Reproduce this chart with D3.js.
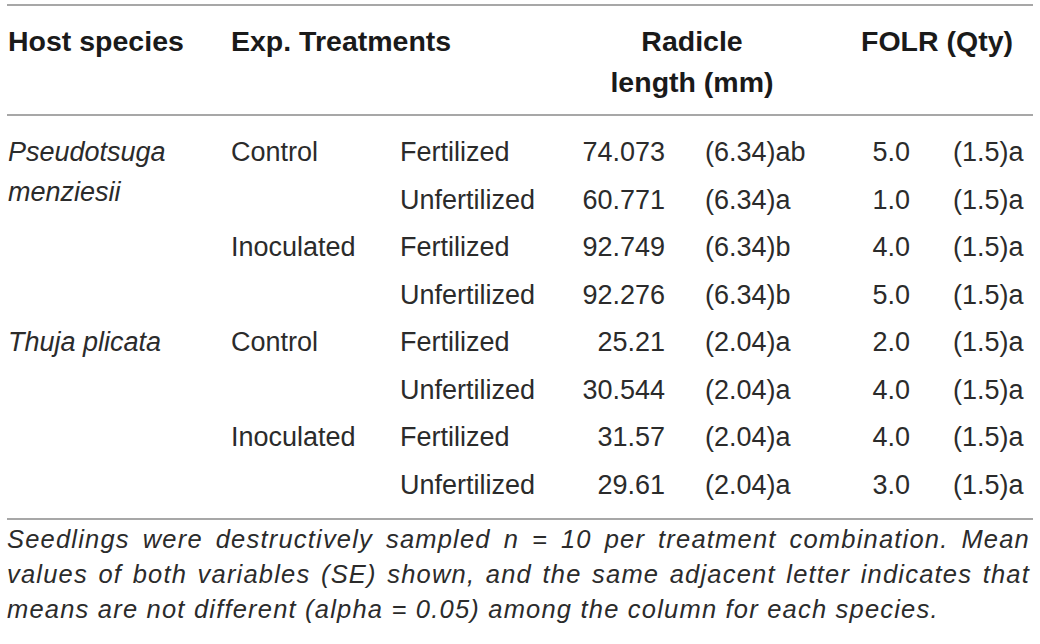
<!DOCTYPE html>
<html>
<head>
<meta charset="utf-8">
<script src="https://cdn.jsdelivr.net/npm/d3@7"></script>
<style>
  body { margin: 0; background: #fff; }
  svg { display: block; }
</style>
</head>
<body>
<div id="chart"></div>
<script>
// table values
const hostSpecies = [["Pseudotsuga", "menziesii"], ["Thuja plicata"]];
const expTreatments = ["Control", "Inoculated"];
const fertilization = ["Fertilized", "Unfertilized"];
const radicleMean = ["74.073", "60.771", "92.749", "92.276", "25.21", "30.544", "31.57", "29.61"];
const radicleSE = ["(6.34)ab", "(6.34)a", "(6.34)b", "(6.34)b", "(2.04)a", "(2.04)a", "(2.04)a", "(2.04)a"];
const folrMean = ["5.0", "1.0", "4.0", "5.0", "2.0", "4.0", "4.0", "3.0"];
const folrSE = ["(1.5)a", "(1.5)a", "(1.5)a", "(1.5)a", "(1.5)a", "(1.5)a", "(1.5)a", "(1.5)a"];
const headers = ["Host species", "Exp. Treatments", ["Radicle", "length (mm)"], "FOLR (Qty)"];
const footnote = [
  "Seedlings were destructively sampled n = 10 per treatment combination. Mean",
  "values of both variables (SE) shown, and the same adjacent letter indicates that",
  "means are not different (alpha = 0.05) among the column for each species."
];

const width = 1040, height = 644;
const left = 7, right = 1033;
const font = "'Liberation Sans', Arial, Helvetica, sans-serif";
const textCol = "#2b2b2b";

const svg = d3.select("#chart").append("svg")
    .attr("width", width)
    .attr("height", height)
    .style("font-family", font);

svg.append("rect").attr("width", width).attr("height", height).attr("fill", "#fff");

// rows
const nRows = radicleMean.length;
const yRow = d3.scaleLinear().domain([0, nRows - 1]).range([161, 494]);

// rules
const rules = [5, 115, 519];
svg.selectAll(".rule").data(rules).enter().append("line")
    .attr("class", "rule")
    .attr("x1", left).attr("x2", right)
    .attr("y1", d => d).attr("y2", d => d)
    .attr("stroke", "#8a8a8a")
    .attr("stroke-width", 1.5);

// header
const hdr = svg.append("g")
    .attr("font-weight", "bold")
    .attr("font-size", 28.5)
    .attr("fill", "#1a1a1a");
hdr.append("text").attr("x", 8).attr("y", 51).text(headers[0]);
hdr.append("text").attr("x", 231).attr("y", 51).text(headers[1]);
hdr.append("text").attr("x", 692).attr("y", 51).attr("text-anchor", "middle").text(headers[2][0]);
hdr.append("text").attr("x", 692).attr("y", 92).attr("text-anchor", "middle").text(headers[2][1]);
hdr.append("text").attr("x", 1013).attr("y", 51).attr("text-anchor", "end").text(headers[3]);

const body = svg.append("g")
    .attr("font-size", 27)
    .attr("fill", textCol);

// host species (each spans 4 rows)
hostSpecies.forEach((lines, i) => {
  const t = body.append("text")
      .attr("x", 8)
      .attr("y", yRow(i * 4))
      .attr("font-style", "italic");
  lines.forEach((l, j) => {
    t.append("tspan").attr("x", 8).attr("dy", j === 0 ? 0 : 40).text(l);
  });
});

// treatments (each spans 2 rows)
d3.range(nRows / 2).forEach(i => {
  body.append("text")
      .attr("x", 231)
      .attr("y", yRow(i * 2))
      .text(expTreatments[i % 2]);
});

// fertilization
d3.range(nRows).forEach(i => {
  body.append("text").attr("x", 400).attr("y", yRow(i)).text(fertilization[i % 2]);
});

body.selectAll(".rad").data(radicleMean).enter().append("text")
    .attr("x", 665).attr("y", (d, i) => yRow(i))
    .attr("text-anchor", "end")
    .text(d => d);

body.selectAll(".radse").data(radicleSE).enter().append("text")
    .attr("x", 705).attr("y", (d, i) => yRow(i))
    .text(d => d);

body.selectAll(".folr").data(folrMean).enter().append("text")
    .attr("x", 910).attr("y", (d, i) => yRow(i))
    .attr("text-anchor", "end")
    .text(d => d);

body.selectAll(".folrse").data(folrSE).enter().append("text")
    .attr("x", 953).attr("y", (d, i) => yRow(i))
    .text(d => d);

// footnote, justified lines except last
const foot = svg.append("g")
    .attr("font-size", 25.5)
    .attr("font-style", "italic")
    .attr("letter-spacing", 1.2)
    .attr("fill", textCol);
footnote.forEach((line, i) => {
  const t = foot.append("text")
      .attr("x", left)
      .attr("y", 548 + i * 35)
      .text(line);
  if (i < footnote.length - 1) {
    const w = t.node().getComputedTextLength();
    const gaps = line.split(" ").length - 1;
    t.attr("word-spacing", ((right - 3 - left) - w) / gaps);
  }
});
</script>
</body>
</html>
